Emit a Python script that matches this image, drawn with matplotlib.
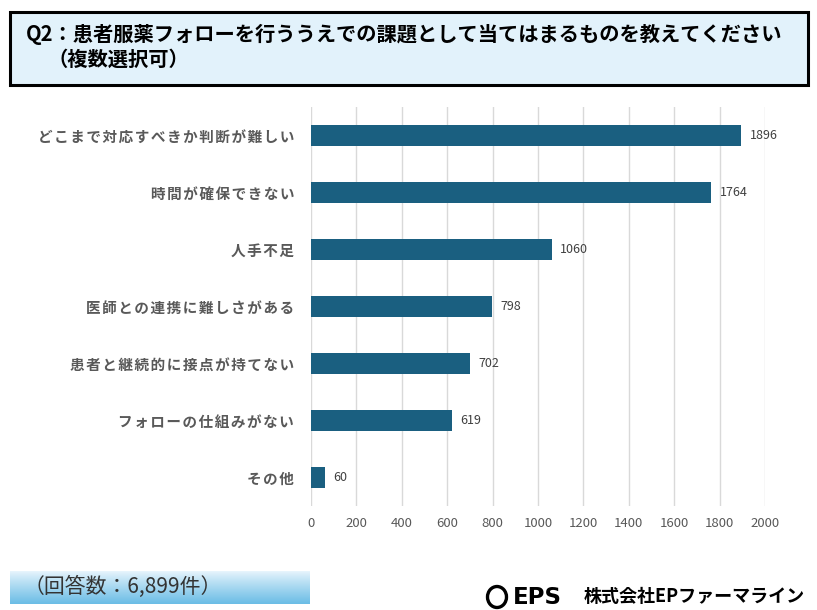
import numpy as np
import matplotlib
matplotlib.use("Agg")
import matplotlib.pyplot as plt
from matplotlib.patches import Rectangle, Ellipse

plt.rcParams['font.family'] = ['Noto Sans CJK JP', 'DejaVu Sans']

# data
categories = ["どこまで対応すべきか判断が難しい", "時間が確保できない", "人手不足",
              "医師との連携に難しさがある", "患者と継続的に接点が持てない",
              "フォローの仕組みがない", "その他"]
counts = [1896, 1764, 1060, 798, 702, 619, 60]
xticks = [0, 200, 400, 600, 800, 1000, 1200, 1400, 1600, 1800, 2000]

title1 = "Q2：患者服薬フォローを行ううえでの課題として当てはまるものを教えてください"
title2 = "（複数選択可）"
note = "（回答数：6,899件）"
company = "株式会社EPファーマライン"

W, H = 817, 610
fig = plt.figure(figsize=(W / 100, H / 100), dpi=100)
fig.patch.set_facecolor("white")

def fx(px):
    return px / W

def fy(py):
    return 1 - py / H

# title box
fig.patches.append(Rectangle((fx(10), fy(85)), fx(798), 73 / H, transform=fig.transFigure,
                             facecolor="#E2F2FB", edgecolor="black", linewidth=2.2, zorder=0))
fig.text(fx(26), fy(34), title1, fontsize=14.6, fontweight="bold", va="center", ha="left")
fig.text(fx(48), fy(59), title2, fontsize=14.6, fontweight="bold", va="center", ha="left")

# main chart
ax = fig.add_axes([fx(311), fy(506), fx(765) - fx(311), (506 - 107) / H])
y = np.arange(len(categories))
bar_color = "#1A5F80"
ax.barh(y, counts, height=0.37, color=bar_color, zorder=3)
for yi, v in zip(y, counts):
    ax.annotate(str(v), (v, yi), xytext=(6, 0), textcoords="offset points",
                va="center", ha="left", fontsize=9, color="#404040")

ax.set_xlim(0, 2000)
ax.set_ylim(len(categories) - 0.5, -0.5)
ax.set_xticks(xticks)
ax.set_xticklabels([str(t) for t in xticks], fontsize=9.5, color="#595959")
ax.set_yticks(y)
ax.set_yticklabels(["\u200a".join(c) for c in categories], fontsize=10.5,
                   fontweight="bold", color="#595959")
ax.tick_params(axis="both", length=0)
ax.tick_params(axis="y", pad=12)
ax.tick_params(axis="x", pad=8)
ax.grid(axis="x", color="#D9D9D9", linewidth=1, zorder=0)
for s in ax.spines.values():
    s.set_visible(False)

# respondents note with gradient box
gax = fig.add_axes([fx(10), fy(604), fx(300), 33 / H])
grad = np.linspace(0, 1, 64).reshape(-1, 1)
top = np.array([0.91, 0.96, 0.99])
bot = np.array([0.42, 0.74, 0.90])
img = top + (bot - top) * grad[..., None] ** 0.9
gax.imshow(img, aspect="auto", extent=[0, 1, 0, 1], origin="upper")
gax.set_axis_off()
fig.text(fx(24), fy(587), note, fontsize=15, va="center", ha="left", color="#333333")

# company logo
fig.patches.append(Ellipse((fx(497), fy(597)), fx(19), 21 / H, transform=fig.transFigure,
                           facecolor="none", edgecolor="black", linewidth=2.4))
fig.text(fx(513), fy(597), "EPS", fontsize=16.5, fontweight="bold", va="center", ha="left",
         family=["DejaVu Sans"])
fig.text(fx(584), fy(597), company, fontsize=13, fontweight="bold", va="center", ha="left")

fig.savefig("out.png", dpi=100)
